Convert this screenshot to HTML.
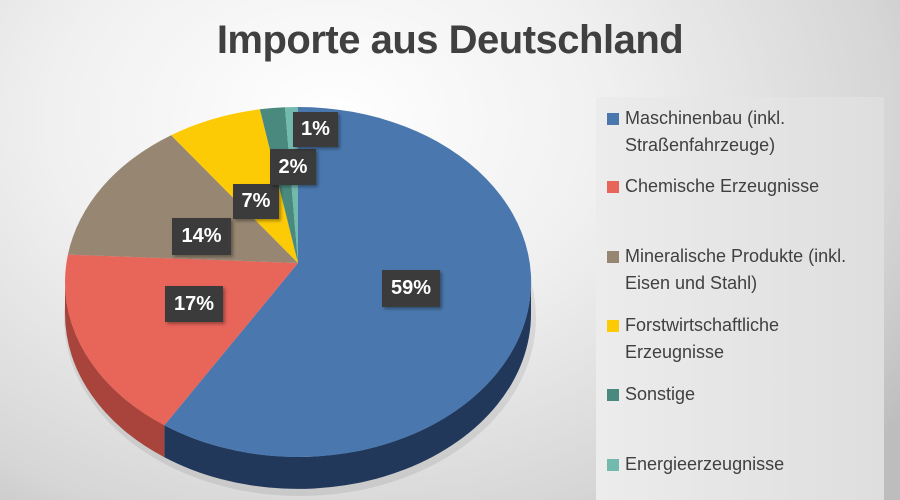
<!DOCTYPE html>
<html><head><meta charset="utf-8"><style>
body{margin:0;width:900px;height:500px;overflow:hidden;font-family:"Liberation Sans",sans-serif;}
#bg{position:absolute;left:0;top:0;width:900px;height:500px;background:radial-gradient(ellipse 700px 520px at 330px 120px,#ffffff 0%,#f0f0f0 40%,#d6d6d6 80%,#bdbdbd 100%);}
#title{position:absolute;left:0;width:900px;top:18px;text-align:center;font-weight:bold;font-size:40px;color:#404040;letter-spacing:-0.5px;}
#leg{position:absolute;left:596px;top:97px;width:288px;height:403px;background:linear-gradient(90deg,#ececec,#dedede);}
.li{position:absolute;left:625px;font-size:18px;color:#404040;line-height:27px;}
.sq{position:absolute;left:607px;width:12px;height:12px;}
.lb{position:absolute;background:#3b3b3b;color:#fff;font-weight:bold;font-size:20px;display:flex;align-items:center;justify-content:center;box-shadow:2px 2px 3px rgba(0,0,0,.35);}
</style></head><body>
<div id="bg"></div>
<div id="title">Importe aus Deutschland</div>
<div id="leg"></div>
<svg style="position:absolute;left:0;top:0" width="900" height="500">
<ellipse cx="300" cy="318" rx="236" ry="178" fill="rgba(0,0,0,0.08)"/>
<path d="M531,282 A233,175 0 0 1 164.4,425.3 L164.4,457.3 A233,175 0 0 0 531,314 Z" fill="#22385a"/>
<path d="M164.4,425.3 A233,175 0 0 1 65,282 L65,314 A233,175 0 0 0 164.4,457.3 Z" fill="#a8443b"/>
<path d="M298,263 L298,107 A233,175 0 1 1 164.4,425.3 Z" fill="#4a78ae"/>
<path d="M298,263 L164.4,425.3 A233,175 0 0 1 67.9,254.6 Z" fill="#e8655a"/>
<path d="M298,263 L67.9,254.6 A233,175 0 0 1 171.1,135.2 Z" fill="#968672"/>
<path d="M298,263 L171.1,135.2 A233,175 0 0 1 259.9,109.3 Z" fill="#fdcb06"/>
<path d="M298,263 L259.9,109.3 A233,175 0 0 1 285,107.3 Z" fill="#4a8a7e"/>
<path d="M298,263 L285,107.3 A233,175 0 0 1 298,107 Z" fill="#72b9ae"/>
</svg>
<div class="lb" style="left:382px;top:270px;width:58px;height:37px">59%</div>
<div class="lb" style="left:165px;top:286px;width:58px;height:36px">17%</div>
<div class="lb" style="left:172px;top:218px;width:59px;height:37px">14%</div>
<div class="lb" style="left:233px;top:184px;width:46px;height:35px">7%</div>
<div class="lb" style="left:270px;top:149px;width:46px;height:36px">2%</div>
<div class="lb" style="left:293px;top:112px;width:45px;height:35px">1%</div>
<div class="sq" style="top:113px;background:#4a78ae"></div>
<div class="li" style="top:105px">Maschinenbau (inkl.<br>Straßenfahrzeuge)</div>
<div class="sq" style="top:181px;background:#e8655a"></div>
<div class="li" style="top:173px">Chemische Erzeugnisse</div>
<div class="sq" style="top:251px;background:#968672"></div>
<div class="li" style="top:243px">Mineralische Produkte (inkl.<br>Eisen und Stahl)</div>
<div class="sq" style="top:320px;background:#fdcb06"></div>
<div class="li" style="top:312px">Forstwirtschaftliche<br>Erzeugnisse</div>
<div class="sq" style="top:389px;background:#4a8a7e"></div>
<div class="li" style="top:381px">Sonstige</div>
<div class="sq" style="top:459px;background:#72b9ae"></div>
<div class="li" style="top:451px">Energieerzeugnisse</div>
</body></html>
